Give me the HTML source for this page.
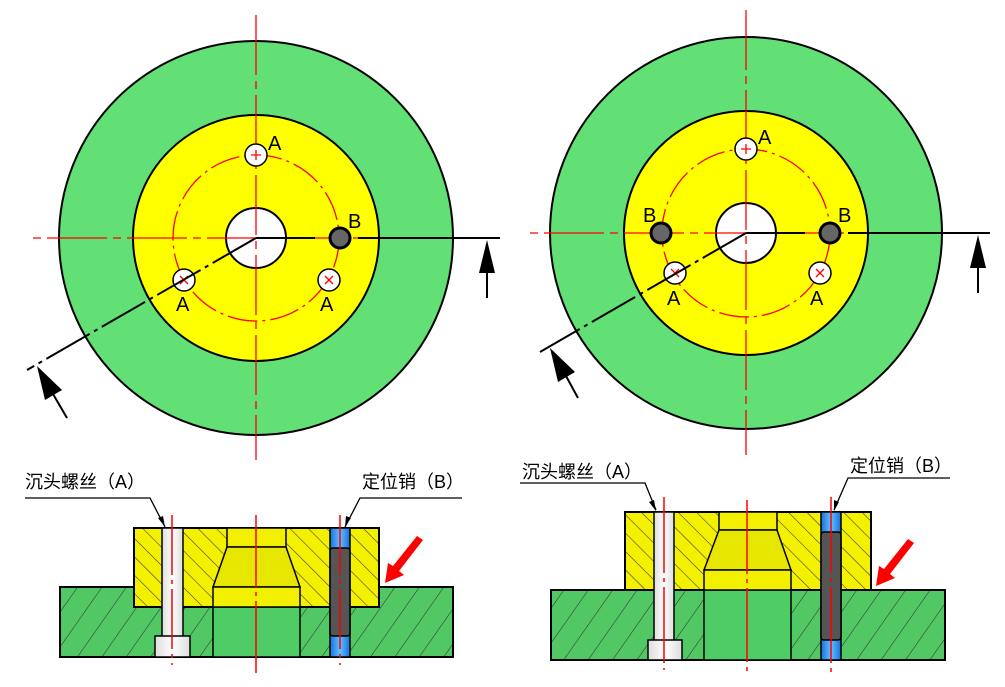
<!DOCTYPE html>
<html><head><meta charset="utf-8"><style>
html,body{margin:0;padding:0;background:#fff;}
svg{display:block}
text{font-family:"Liberation Sans","Noto Sans CJK SC",sans-serif;}
</style></head><body>
<svg width="1005" height="687" viewBox="0 0 1005 687" xmlns="http://www.w3.org/2000/svg">
<defs>
<pattern id="hy" patternUnits="userSpaceOnUse" width="13" height="13" patternTransform="rotate(-45)">
<rect width="13" height="13" fill="#f3f000"/><line x1="0" y1="0" x2="0" y2="13" stroke="#333" stroke-width="1.1"/></pattern>
<pattern id="hg" patternUnits="userSpaceOnUse" width="20" height="20" patternTransform="rotate(35)">
<rect width="20" height="20" fill="#52c865"/><line x1="0" y1="0" x2="0" y2="20" stroke="#333" stroke-width="1.1"/></pattern>
<linearGradient id="wg" x1="0" x2="1"><stop offset="0" stop-color="#ddd"/><stop offset="0.5" stop-color="#fff"/><stop offset="1" stop-color="#ddd"/></linearGradient>
<linearGradient id="bg" x1="0" x2="1"><stop offset="0" stop-color="#1a6fe0"/><stop offset="0.5" stop-color="#5fc0ff"/><stop offset="1" stop-color="#1a6fe0"/></linearGradient>
</defs>

<!-- LEFT TOP VIEW -->
<circle cx="256" cy="238" r="197" fill="#62e076" stroke="#000" stroke-width="2"/>
<circle cx="256" cy="238" r="123" fill="#ffff00" stroke="#000" stroke-width="2"/>
<circle cx="256" cy="238" r="83" fill="none" stroke="#f00" stroke-width="1.3" stroke-dasharray="30 5 3 5"/>
<circle cx="256" cy="238" r="30" fill="#fff" stroke="#000" stroke-width="2"/>
<line x1="256" y1="15" x2="256" y2="460" stroke="#f00" stroke-width="1.3" stroke-dasharray="60 6 8 6"/>
<line x1="33" y1="238" x2="380" y2="238" stroke="#f00" stroke-width="1.3" stroke-dasharray="8 6 60 6"/>
<circle cx="256" cy="155" r="11" fill="#fff" stroke="#000" stroke-width="1.5"/>
<circle cx="184" cy="280" r="11" fill="#fff" stroke="#000" stroke-width="1.5"/>
<circle cx="329" cy="280" r="11" fill="#fff" stroke="#000" stroke-width="1.5"/>
<path d="M251 155h10M256 150v10M180 276l8 8M188 276l-8 8M325 276l8 8M333 276l-8 8" stroke="#f00" stroke-width="1.3"/>
<circle cx="340" cy="238" r="10" fill="#666" stroke="#000" stroke-width="3"/>
<line x1="256" y1="238" x2="315" y2="238" stroke="#000" stroke-width="2"/>
<line x1="358" y1="238" x2="500" y2="238" stroke="#000" stroke-width="2"/>
<line x1="256" y1="238" x2="27" y2="370" stroke="#000" stroke-width="2" stroke-dasharray="50 5 4 5"/>
<polygon points="487,240 479,273 495,273" fill="#000"/><line x1="487" y1="270" x2="487" y2="298" stroke="#000" stroke-width="2"/>
<polygon points="37,366 45,400 62,390" fill="#000"/><line x1="53" y1="394" x2="67" y2="418" stroke="#000" stroke-width="2"/>
<text x="268" y="150" font-size="20">A</text>
<text x="176" y="311" font-size="20">A</text>
<text x="320" y="311" font-size="20">A</text>
<text x="348" y="228" font-size="20">B</text>

<!-- RIGHT TOP VIEW -->
<circle cx="746" cy="233" r="196" fill="#62e076" stroke="#000" stroke-width="2"/>
<circle cx="746" cy="233" r="122" fill="#ffff00" stroke="#000" stroke-width="2"/>
<circle cx="746" cy="233" r="84" fill="none" stroke="#f00" stroke-width="1.3" stroke-dasharray="30 5 3 5"/>
<circle cx="746" cy="233" r="30" fill="#fff" stroke="#000" stroke-width="2"/>
<line x1="746" y1="10" x2="746" y2="455" stroke="#f00" stroke-width="1.3" stroke-dasharray="60 6 8 6"/>
<line x1="530" y1="233" x2="860" y2="233" stroke="#f00" stroke-width="1.3" stroke-dasharray="8 6 60 6"/>
<circle cx="746" cy="149" r="11" fill="#fff" stroke="#000" stroke-width="1.5"/>
<circle cx="675" cy="273" r="11" fill="#fff" stroke="#000" stroke-width="1.5"/>
<circle cx="820" cy="273" r="11" fill="#fff" stroke="#000" stroke-width="1.5"/>
<path d="M741 149h10M746 144v10M671 269l8 8M679 269l-8 8M816 269l8 8M824 269l-8 8" stroke="#f00" stroke-width="1.3"/>
<circle cx="661" cy="233" r="10" fill="#666" stroke="#000" stroke-width="3"/>
<circle cx="830" cy="233" r="10" fill="#666" stroke="#000" stroke-width="3"/>
<line x1="746" y1="233" x2="805" y2="233" stroke="#000" stroke-width="2"/>
<line x1="848" y1="233" x2="990" y2="233" stroke="#000" stroke-width="2"/>
<line x1="746" y1="233" x2="540" y2="352" stroke="#000" stroke-width="2" stroke-dasharray="50 5 4 5"/>
<polygon points="978,235 970,268 986,268" fill="#000"/><line x1="978" y1="265" x2="978" y2="293" stroke="#000" stroke-width="2"/>
<polygon points="550,348 558,382 575,372" fill="#000"/><line x1="566" y1="376" x2="578" y2="398" stroke="#000" stroke-width="2"/>
<text x="758" y="144" font-size="20">A</text>
<text x="667" y="305" font-size="20">A</text>
<text x="810" y="305" font-size="20">A</text>
<text x="643" y="222" font-size="20">B</text>
<text x="838" y="222" font-size="20">B</text>

<!-- LEFT SECTION -->
<rect x="60" y="587" width="393" height="70" fill="url(#hg)" stroke="#000" stroke-width="2"/>
<rect x="134" y="528" width="245" height="79" fill="url(#hy)" stroke="#000" stroke-width="2"/>
<rect x="213" y="607" width="87" height="50" fill="#50cc66" stroke="#000" stroke-width="1.5"/>
<rect x="227" y="528" width="59" height="19" fill="#f2f000" stroke="#000" stroke-width="1.5"/>
<polygon points="227,547 286,547 300,587 213,587" fill="#e6e600" stroke="#000" stroke-width="1.5"/>
<rect x="213" y="587" width="87" height="20" fill="#f2f000" stroke="#000" stroke-width="1.5"/>
<rect x="162" y="528" width="21" height="129" fill="url(#wg)" stroke="#000" stroke-width="1.5"/>
<rect x="155" y="636" width="35" height="21" fill="url(#wg)" stroke="#000" stroke-width="1.5"/>
<rect x="330" y="528" width="20" height="129" fill="url(#bg)" stroke="#000" stroke-width="1.5"/>
<rect x="330" y="548" width="20" height="88" rx="3" fill="#555" stroke="#000" stroke-width="1.5"/>
<line x1="172" y1="515" x2="172" y2="665" stroke="#f00" stroke-width="1.5" stroke-dasharray="60 5 4 5"/>
<line x1="256" y1="515" x2="256" y2="675" stroke="#f00" stroke-width="1.5" stroke-dasharray="72 5 4 5"/>
<line x1="340" y1="515" x2="340" y2="665" stroke="#f00" stroke-width="1.5" stroke-dasharray="60 5 4 5"/>
<polygon points="385,583 388,563 393,566 417,536 423,540 399,571 404,575" fill="#f00"/>
<text x="25" y="488" font-size="18">沉头螺丝（A）</text>
<text x="362" y="488" font-size="18">定位销（B）</text>
<path d="M25 498H150L165 527M462 498H360L345 527" fill="none" stroke="#000" stroke-width="1.3"/>
<polygon points="165,527 158,518 163,516" fill="#000"/><polygon points="345,527 346,516 351,518" fill="#000"/>

<!-- RIGHT SECTION -->
<rect x="551" y="590" width="394" height="70" fill="url(#hg)" stroke="#000" stroke-width="2"/>
<rect x="625" y="512" width="246" height="78" fill="url(#hy)" stroke="#000" stroke-width="2"/>
<rect x="704" y="590" width="87" height="70" fill="#50cc66" stroke="#000" stroke-width="1.5"/>
<rect x="719" y="512" width="58" height="18" fill="#f2f000" stroke="#000" stroke-width="1.5"/>
<polygon points="719,530 777,530 791,570 704,570" fill="#e6e600" stroke="#000" stroke-width="1.5"/>
<rect x="704" y="570" width="87" height="20" fill="#f2f000" stroke="#000" stroke-width="1.5"/>
<rect x="654" y="512" width="20" height="148" fill="url(#wg)" stroke="#000" stroke-width="1.5"/>
<rect x="648" y="640" width="34" height="20" fill="url(#wg)" stroke="#000" stroke-width="1.5"/>
<rect x="821" y="512" width="20" height="148" fill="url(#bg)" stroke="#000" stroke-width="1.5"/>
<rect x="821" y="532" width="20" height="108" rx="3" fill="#555" stroke="#000" stroke-width="1.5"/>
<line x1="664" y1="497" x2="664" y2="670" stroke="#f00" stroke-width="1.5" stroke-dasharray="76 5 4 5"/>
<line x1="747" y1="500" x2="747" y2="672" stroke="#f00" stroke-width="1.5" stroke-dasharray="74 5 4 5"/>
<line x1="831" y1="497" x2="831" y2="672" stroke="#f00" stroke-width="1.5" stroke-dasharray="76 5 4 5"/>
<polygon transform="translate(491,3)" points="385,583 388,563 393,566 417,536 423,540 399,571 404,575" fill="#f00"/>
<text x="522" y="478" font-size="18">沉头螺丝（A）</text>
<text x="850" y="472" font-size="18">定位销（B）</text>
<path d="M520 483H645L656 510M950 478H848L834 510" fill="none" stroke="#000" stroke-width="1.3"/>
<polygon points="656,511 649,502 654,500" fill="#000"/><polygon points="834,511 834,500 839,502" fill="#000"/>
</svg>
</body></html>
